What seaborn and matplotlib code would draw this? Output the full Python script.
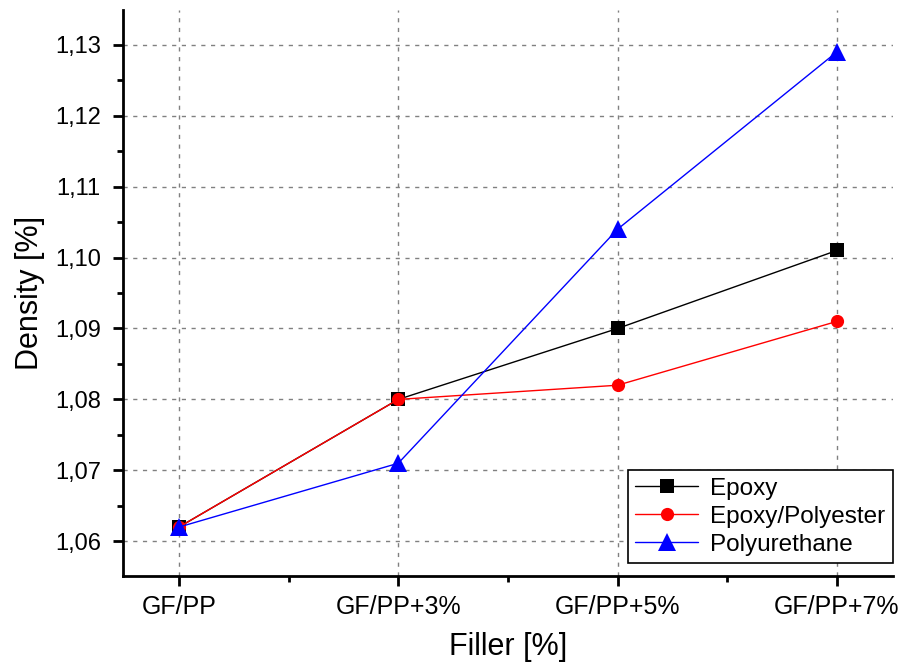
import matplotlib
matplotlib.use("Agg")
import matplotlib.pyplot as plt
from matplotlib.ticker import MultipleLocator, FuncFormatter
import seaborn as sns
import pandas as pd

fillers = ["GF/PP", "GF/PP+3%", "GF/PP+5%", "GF/PP+7%"]
epoxy = [1.062, 1.080, 1.090, 1.101]
epoxy_polyester = [1.062, 1.080, 1.082, 1.091]
polyurethane = [1.062, 1.071, 1.104, 1.129]

series = {"Epoxy": epoxy, "Epoxy/Polyester": epoxy_polyester, "Polyurethane": polyurethane}
rows = []
for name, vals in series.items():
    for i, v in enumerate(vals):
        rows.append({"pos": i, "density": v, "series": name})
df = pd.DataFrame(rows)

sns.set_style("white")
plt.rcParams["font.family"] = ["Liberation Sans", "DejaVu Sans"]
plt.rcParams["text.color"] = "black"
plt.rcParams["axes.labelcolor"] = "black"

fig = plt.figure(figsize=(9.01, 6.67), dpi=100)
ax = fig.add_axes([0.1365, 0.1364, 0.8545, 0.8486])

palette = {"Epoxy": "black", "Epoxy/Polyester": "red", "Polyurethane": "blue"}
markers = {"Epoxy": "s", "Epoxy/Polyester": "o", "Polyurethane": "^"}
sns.lineplot(data=df, x="pos", y="density", hue="series", style="series",
             palette=palette, markers=markers, dashes=False, markersize=9.5,
             linewidth=1, markeredgewidth=0, ax=ax)

# triangles look bigger in the original
for ln in ax.lines:
    if ln.get_marker() == "^":
        ln.set_markersize(12.5)

ax.set_xlim(-0.255, 3.255)
ax.set_ylim(1.0551, 1.1349)
ax.set_xticks(range(len(fillers)))
ax.set_xticklabels(fillers)
ax.xaxis.set_minor_locator(MultipleLocator(0.5))
ax.yaxis.set_major_locator(MultipleLocator(0.01))
ax.yaxis.set_minor_locator(MultipleLocator(0.005))
ax.yaxis.set_major_formatter(FuncFormatter(lambda v, p: f"{v:.2f}".replace(".", ",")))

ax.grid(True, which="major", color="gray", linestyle=(0, (3, 4)), linewidth=1)
for side in ["top", "right"]:
    ax.spines[side].set_visible(False)
for side in ["left", "bottom"]:
    ax.spines[side].set_color("black")
    ax.spines[side].set_linewidth(2)

ax.tick_params(which="major", direction="out", length=7, width=2, colors="black",
               left=True, bottom=True)
ax.tick_params(which="minor", direction="out", length=4, width=2, colors="black",
               left=True, bottom=True)
ax.tick_params(axis="x", labelsize=18, pad=7)
ax.tick_params(axis="y", labelsize=17, pad=9)

ax.set_xlabel("Filler [%]", fontsize=22, labelpad=9)
ax.set_ylabel("Density [%]", fontsize=22, labelpad=7)

leg = ax.legend(loc="lower right", fontsize=17.5, frameon=True, fancybox=False,
                edgecolor="black", borderpad=0.3, labelspacing=0.25, handlelength=2.6,
                handletextpad=0.5, borderaxespad=0, bbox_to_anchor=(1.0, 0.023))
leg.get_frame().set_linewidth(1.2)
leg.get_frame().set_alpha(1)

fig.savefig("out.png", dpi=100)
